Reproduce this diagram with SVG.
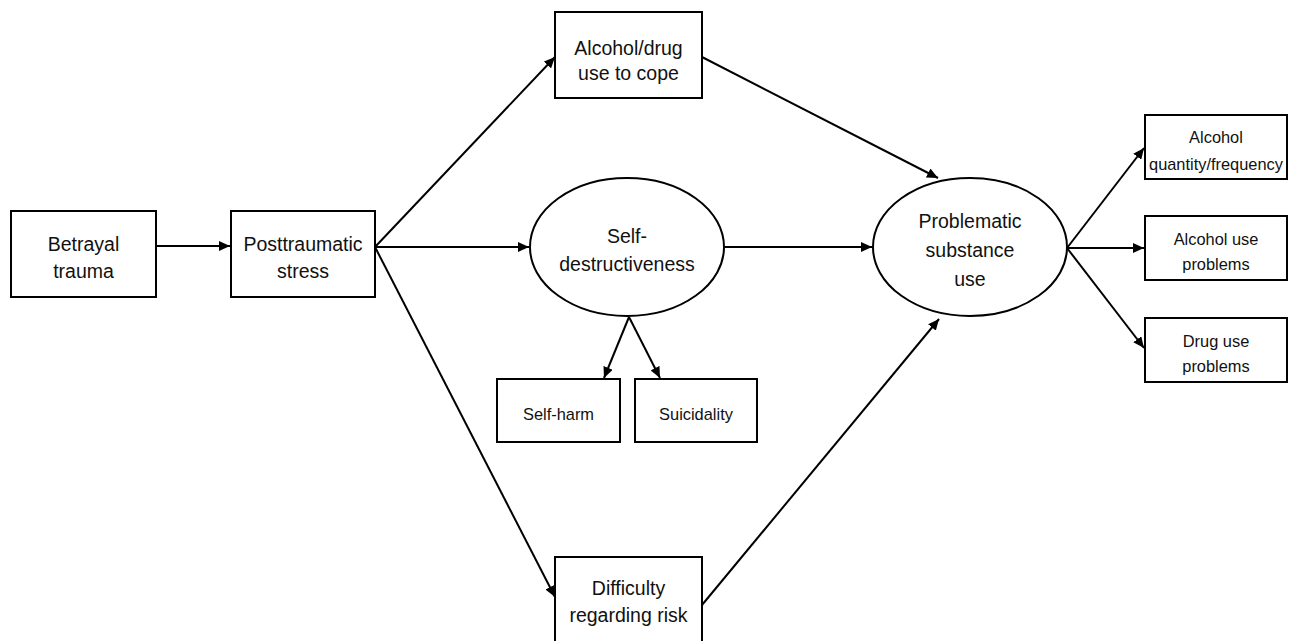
<svg xmlns="http://www.w3.org/2000/svg" width="1289" height="641" viewBox="0 0 1289 641">
<style>
.box{fill:#fff;stroke:#000;stroke-width:2}
.t{font-family:"Liberation Sans",Arial,sans-serif;font-size:19.5px;fill:#111;text-anchor:middle}
.s{font-family:"Liberation Sans",Arial,sans-serif;font-size:16.4px;fill:#111;text-anchor:middle}
.c{stroke:#000;stroke-width:2;fill:none;marker-end:url(#ah)}
</style>
<defs>
<marker id="ah" markerUnits="userSpaceOnUse" markerWidth="12" markerHeight="10" refX="11" refY="5" orient="auto">
<path d="M0,0 L11,5 L0,10 Z" fill="#000"/>
</marker>
</defs>
<rect width="1289" height="641" fill="#fff"/>
<g id="connectors">
<line class="c" x1="156" y1="246" x2="230" y2="246"/>
<line class="c" x1="375" y1="247" x2="555" y2="57"/>
<line class="c" x1="375" y1="247" x2="529" y2="247"/>
<line class="c" x1="375" y1="247" x2="555" y2="597"/>
<line class="c" x1="702" y1="57" x2="938" y2="178"/>
<line class="c" x1="724" y1="247" x2="872" y2="247"/>
<line class="c" x1="702" y1="605" x2="939" y2="319"/>
<line class="c" x1="629" y1="317" x2="604" y2="378"/>
<line class="c" x1="629" y1="317" x2="660" y2="378"/>
<line class="c" x1="1067" y1="248" x2="1144" y2="148"/>
<line class="c" x1="1067" y1="248" x2="1144" y2="248"/>
<line class="c" x1="1067" y1="248" x2="1144" y2="348"/>
</g>
<g id="betrayal">
<rect class="box" x="11" y="211" width="145" height="86"/>
<text class="t" x="83.5" y="251">Betrayal</text>
<text class="t" x="83.5" y="278">trauma</text>
</g>
<g id="posttraumatic">
<rect class="box" x="231" y="211" width="144" height="86"/>
<text class="t" x="303" y="251">Posttraumatic</text>
<text class="t" x="303" y="278">stress</text>
</g>
<g id="alcohol-drug">
<rect class="box" x="555" y="12" width="147" height="86"/>
<text class="t" x="628.5" y="55">Alcohol/drug</text>
<text class="t" x="628.5" y="80">use to cope</text>
</g>
<g id="self-destructiveness">
<ellipse class="box" cx="627" cy="247" rx="97" ry="69"/>
<text class="t" x="627" y="243">Self-</text>
<text class="t" x="627" y="271">destructiveness</text>
</g>
<g id="self-harm">
<rect class="box" x="497" y="379" width="123" height="63"/>
<text class="s" x="558.5" y="420">Self-harm</text>
</g>
<g id="suicidality">
<rect class="box" x="635" y="379" width="122" height="63"/>
<text class="s" x="696" y="420">Suicidality</text>
</g>
<g id="difficulty">
<rect class="box" x="555" y="557" width="147" height="90"/>
<text class="t" x="628.5" y="595">Difficulty</text>
<text class="t" x="628.5" y="622">regarding risk</text>
</g>
<g id="problematic">
<ellipse class="box" cx="970" cy="247" rx="97" ry="69"/>
<text class="t" x="970" y="228">Problematic</text>
<text class="t" x="970" y="257">substance</text>
<text class="t" x="970" y="286">use</text>
</g>
<g id="alcohol-quantity">
<rect class="box" x="1145" y="115" width="142" height="64"/>
<text class="s" x="1216" y="143">Alcohol</text>
<text class="s" x="1216" y="170">quantity/frequency</text>
</g>
<g id="alcohol-problems">
<rect class="box" x="1145" y="216" width="142" height="64"/>
<text class="s" x="1216" y="245">Alcohol use</text>
<text class="s" x="1216" y="270">problems</text>
</g>
<g id="drug-problems">
<rect class="box" x="1145" y="318" width="142" height="64"/>
<text class="s" x="1216" y="347">Drug use</text>
<text class="s" x="1216" y="372">problems</text>
</g>
</svg>
